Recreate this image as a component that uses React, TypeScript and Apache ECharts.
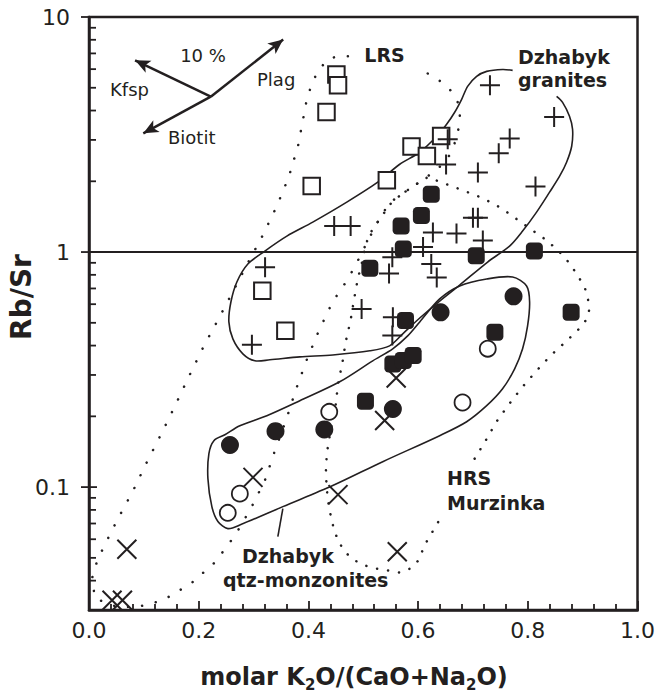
import React, { useEffect, useRef } from "react";
import * as echarts from "echarts";

const INK = "#231f20";
const FONT = '"DejaVu Sans", sans-serif';

// Axis ranges and tick values
const xRange = [0, 1];
const xStep = 0.2;
const yRange = [0.03, 10];
const yMajorTicks = [0.1, 1, 10];
const yMinorTicks = [
  0.04, 0.05, 0.06, 0.07, 0.08, 0.09,
  0.2, 0.3, 0.4, 0.5, 0.6, 0.7, 0.8, 0.9,
  2, 3, 4, 5, 6, 7, 8, 9,
];
const rbSrUnity = 1;

// Samples: [molar K2O/(CaO+Na2O), Rb/Sr]
const openSquares = [
  [0.451, 5.7], [0.454, 5.12], [0.433, 3.94], [0.406, 1.91], [0.543, 2.02],
  [0.588, 2.81], [0.642, 3.12], [0.616, 2.56], [0.316, 0.685], [0.358, 0.463],
];
const filledSquares = [
  [0.624, 1.76], [0.606, 1.43], [0.569, 1.29], [0.573, 1.03], [0.706, 0.965],
  [0.812, 1.01], [0.512, 0.853], [0.879, 0.555], [0.577, 0.511], [0.74, 0.456],
  [0.554, 0.334], [0.573, 0.346], [0.591, 0.363], [0.504, 0.232],
];
const filledCircles = [
  [0.257, 0.151], [0.34, 0.173], [0.429, 0.176], [0.554, 0.215], [0.641, 0.554], [0.774, 0.648],
];
const openCircles = [
  [0.275, 0.0938], [0.253, 0.0777], [0.438, 0.209], [0.727, 0.388], [0.681, 0.229],
];
const crosses = [
  [0.299, 0.11], [0.069, 0.0544], [0.454, 0.0929], [0.562, 0.0531],
  [0.042, 0.033], [0.061, 0.033], [0.56, 0.291], [0.539, 0.192],
];
const pluses = [
  [0.731, 5.12], [0.848, 3.75], [0.767, 3.04], [0.747, 2.63], [0.654, 3.02],
  [0.651, 2.36], [0.709, 2.18], [0.814, 1.9], [0.7, 1.4], [0.709, 1.4],
  [0.627, 1.21], [0.67, 1.2], [0.718, 1.12], [0.609, 1.05], [0.553, 0.95],
  [0.547, 0.81], [0.624, 0.89], [0.634, 0.78], [0.497, 0.573], [0.554, 0.528],
  [0.553, 0.441], [0.321, 0.861], [0.297, 0.403], [0.447, 1.29], [0.477, 1.29],
];

// 10 % fractionation vectors
const vectorOrigin = [0.222, 4.58];
const vectorKfsp = [0.084, 6.54];
const vectorBiotit = [0.099, 3.2];
const vectorPlag = [0.354, 8.02];

// Field outlines
const lrsField = [
  [0.6175, 5.75], [0.641, 5.32], [0.663, 4.78], [0.676, 4.17], [0.676, 3.56],
  [0.67, 3.05], [0.659, 2.61], [0.641, 2.32], [0.6175, 2.1], [0.592, 1.91],
  [0.568, 1.75], [0.548, 1.62], [0.5355, 1.46], [0.523, 1.3], [0.51, 1.135],
  [0.497, 0.99], [0.4845, 0.864], [0.466, 0.731], [0.444, 0.613], [0.419, 0.462],
  [0.397, 0.348], [0.377, 0.259], [0.359, 0.192], [0.339, 0.143], [0.3206, 0.1066],
  [0.295, 0.0811], [0.266, 0.0622], [0.2295, 0.0478], [0.186, 0.0389], [0.135, 0.033],
  [0.093, 0.0311], [0.053, 0.0308], [0.011, 0.0336], [0.0055, 0.0409], [0.0146, 0.0483],
  [0.0255, 0.0548], [0.051, 0.0721], [0.0796, 0.0957], [0.105, 0.127], [0.131, 0.167],
  [0.157, 0.222], [0.182, 0.295], [0.2077, 0.391], [0.235, 0.514], [0.262, 0.676],
  [0.2896, 0.898], [0.317, 1.181], [0.3424, 1.567], [0.364, 2.08], [0.381, 2.82],
  [0.392, 3.855], [0.397, 4.46], [0.406, 5.17], [0.417, 5.87], [0.435, 6.6],
  [0.452, 6.8], [0.475, 6.8],
];
const hrsField = [
  [0.703, 0.132], [0.723, 0.1575], [0.743, 0.19], [0.765, 0.224], [0.789, 0.2646],
  [0.814, 0.309], [0.841, 0.3617], [0.869, 0.415], [0.897, 0.48], [0.909, 0.525],
  [0.9126, 0.578], [0.909, 0.644], [0.9035, 0.71], [0.887, 0.822], [0.8725, 0.916],
  [0.858, 1.0], [0.834, 1.124], [0.818, 1.192], [0.785, 1.354], [0.7517, 1.537],
  [0.7177, 1.695], [0.681, 1.834], [0.6424, 1.98], [0.6175, 2.082], [0.597, 1.944],
  [0.57, 1.763], [0.552, 1.63], [0.53, 1.381], [0.517, 1.252], [0.508, 1.136],
  [0.503, 1.03], [0.497, 0.889], [0.49, 0.768], [0.4827, 0.619], [0.4767, 0.509],
  [0.468, 0.415], [0.462, 0.338], [0.454, 0.275], [0.45, 0.226], [0.441, 0.177],
  [0.4335, 0.1388], [0.4317, 0.114], [0.435, 0.0894], [0.4426, 0.0714], [0.4536, 0.0593],
  [0.4663, 0.0532], [0.479, 0.0497], [0.497, 0.0469], [0.521, 0.0451], [0.5446, 0.0442],
  [0.5665, 0.0433], [0.5865, 0.0451], [0.599, 0.0483], [0.6157, 0.0587], [0.635, 0.07],
  [0.645, 0.0764],
];
const granitesField = [
  [0.8525, 4.597], [0.8634, 4.335], [0.876, 3.781], [0.8816, 3.329], [0.88, 2.819],
  [0.8707, 2.411], [0.858, 2.102], [0.8397, 1.798], [0.816, 1.479], [0.7905, 1.228],
  [0.7668, 1.06], [0.7268, 0.907], [0.6758, 0.724], [0.6393, 0.619], [0.603, 0.524],
  [0.572, 0.449], [0.548, 0.399], [0.512, 0.38], [0.4444, 0.365], [0.3843, 0.358],
  [0.3297, 0.348], [0.3024, 0.3445], [0.2805, 0.369], [0.2623, 0.427], [0.255, 0.5044],
  [0.2587, 0.613], [0.2696, 0.746], [0.2896, 0.889], [0.3206, 1.01], [0.3607, 1.169],
  [0.408, 1.341], [0.47, 1.631], [0.5264, 1.983], [0.5665, 2.364], [0.603, 2.658],
  [0.634, 3.109], [0.652, 3.496], [0.6667, 3.932], [0.6794, 4.464], [0.6903, 5.07],
  [0.7067, 5.59], [0.725, 5.87], [0.754, 5.98], [0.7723, 5.93],
];
const qtzMonzField = [
  [0.2186, 0.1388], [0.2277, 0.1575], [0.2477, 0.167], [0.275, 0.1824], [0.3242, 0.2012],
  [0.3843, 0.233], [0.457, 0.2805], [0.5173, 0.3445], [0.5537, 0.3874], [0.581, 0.4398],
  [0.603, 0.5044], [0.6393, 0.6316], [0.6758, 0.7173], [0.725, 0.768], [0.7723, 0.783],
  [0.7978, 0.7173], [0.8033, 0.613], [0.7996, 0.485], [0.7905, 0.3874], [0.776, 0.3184],
  [0.754, 0.262], [0.725, 0.222], [0.6885, 0.1897], [0.6393, 0.1655], [0.5355, 0.1283],
  [0.4444, 0.1015], [0.3534, 0.0826], [0.2769, 0.0693], [0.2532, 0.0666], [0.235, 0.0714],
  [0.224, 0.0826], [0.2168, 0.1087],
];
const qtzMonzLeader = [[0.3534, 0.081], [0.3443, 0.0616]];

const PLUS = "path://M10,0L10,20M0,10L20,10";
const CROSS = "path://M0,0L20,20M0,20L20,0";

function outlineSeries(pts: number[][], closed: boolean, dotted: boolean, gap = 12) {
  return {
    type: "custom",
    silent: true,
    clip: true,
    z: 2,
    data: pts,
    renderItem: (params: any, api: any) => {
      if (params.dataIndex !== 0) return null;
      const points = pts.map((p) => api.coord(p));
      return {
        type: closed ? "polygon" : "polyline",
        shape: { points, smooth: dotted ? 0 : 0.3 },
        style: dotted
          ? { fill: "none", stroke: INK, lineWidth: 2.5, lineDash: [0.1, gap], lineCap: "round" }
          : { fill: "none", stroke: INK, lineWidth: 1.6 },
      };
    },
  };
}

function yTickSeries(vals: number[], outer: number, inner: number) {
  return {
    type: "custom",
    silent: true,
    clip: false,
    z: 6,
    data: vals.map((v) => [xRange[0], v]),
    renderItem: (params: any, api: any) => {
      const p = api.coord([api.value(0), api.value(1)]);
      return {
        type: "line",
        shape: { x1: p[0] - outer, y1: p[1], x2: p[0] + inner, y2: p[1] },
        style: { stroke: INK, lineWidth: 1.8 },
      };
    },
  };
}

function scatterSeries(data: number[][], symbol: string, size: number, itemStyle: any, z: number) {
  return {
    type: "scatter",
    data,
    symbol,
    symbolSize: size,
    itemStyle: { opacity: 1, ...itemStyle },
    z,
    silent: true,
    emphasis: { disabled: true },
  };
}

function label(text: string, x: number, y: number, bold: boolean, align = "left", size?: number) {
  return {
    type: "text",
    x,
    y,
    z: 10,
    style: {
      text,
      fill: INK,
      fontFamily: FONT,
      fontSize: size ?? (bold ? 19 : 18),
      fontWeight: bold ? "bold" : "normal",
      align,
      verticalAlign: "middle",
    },
  };
}

export default function App() {
  const ref = useRef<HTMLDivElement>(null);

  useEffect(() => {
    if (!ref.current) return;
    const chart = echarts.init(ref.current, undefined, { renderer: "svg" });
    const option: any = {
      animation: false,
      backgroundColor: "#ffffff",
      grid: {
        left: 89,
        top: 17,
        width: 549,
        height: 593,
        show: true,
        borderColor: INK,
        borderWidth: 2.5,
        backgroundColor: "transparent",
      },
      xAxis: {
        type: "value",
        min: xRange[0],
        max: xRange[1],
        interval: xStep,
        axisLine: { show: true, onZero: false, lineStyle: { color: INK, width: 2.5 } },
        axisTick: { show: true, inside: true, length: 9, lineStyle: { color: INK, width: 1.8 } },
        minorTick: { show: true, splitNumber: 5, length: 6, lineStyle: { color: INK, width: 1.8 } },
        splitLine: { show: false },
        axisLabel: {
          color: INK,
          fontFamily: FONT,
          fontSize: 22,
          margin: 9,
          formatter: (v: number) => v.toFixed(1),
        },
      },
      yAxis: {
        type: "log",
        logBase: 10,
        min: yRange[0],
        max: yRange[1],
        axisLine: { show: true, lineStyle: { color: INK, width: 2.5 } },
        axisTick: { show: false },
        splitLine: { show: false },
        axisLabel: {
          color: INK,
          fontFamily: FONT,
          fontSize: 22,
          margin: 19,
          formatter: (v: number) => {
            const l = Math.log10(v);
            return Math.abs(l - Math.round(l)) < 1e-6 ? String(+v.toPrecision(6)) : "";
          },
        },
      },
      graphic: [
        label("LRS", 384.5, 55, true, "center"),
        label("Dzhabyk", 518, 57, true),
        label("granites", 518, 80, true),
        label("HRS", 447, 478, true),
        label("Murzinka", 447, 503, true),
        label("Dzhabyk", 242, 556, true),
        label("qtz-monzonites", 223, 580, true),
        label("10 %", 203, 55, false, "center"),
        label("Kfsp", 110, 89, false),
        label("Plag", 257, 79, false),
        label("Biotit", 168, 137, false),
        {
          type: "text",
          x: 21,
          y: 297,
          rotation: Math.PI / 2,
          z: 10,
          style: {
            text: "Rb/Sr",
            fill: INK,
            fontFamily: FONT,
            fontSize: 28,
            fontWeight: "bold",
            align: "center",
            verticalAlign: "middle",
          },
        },
        {
          type: "text",
          x: 354,
          y: 677,
          z: 10,
          style: {
            text: "{m|molar K}{s|2}{m|O/(CaO+Na}{s|2}{m|O)}",
            align: "center",
            verticalAlign: "middle",
            rich: {
              m: { fontFamily: FONT, fontSize: 24, fontWeight: "bold", fill: INK, lineHeight: 30 },
              s: {
                fontFamily: FONT,
                fontSize: 15,
                fontWeight: "bold",
                fill: INK,
                lineHeight: 15,
                verticalAlign: "bottom",
              },
            },
          },
        },
      ],
      series: [
        outlineSeries(lrsField, false, true, 14),
        outlineSeries(hrsField, false, true, 11),
        outlineSeries(granitesField, false, false),
        outlineSeries(qtzMonzField, true, false),
        outlineSeries(qtzMonzLeader, false, false),
        {
          type: "line",
          data: [],
          silent: true,
          z: 3,
          markLine: {
            silent: true,
            animation: false,
            symbol: ["none", "none"],
            label: { show: false },
            lineStyle: { color: INK, width: 2, type: "solid", opacity: 1 },
            data: [{ yAxis: rbSrUnity }],
          },
        },
        {
          type: "line",
          data: [],
          silent: true,
          z: 3,
          markLine: {
            silent: true,
            animation: false,
            symbol: ["none", "arrow"],
            symbolSize: [10, 15],
            label: { show: false },
            lineStyle: { color: INK, width: 2.5, type: "solid", opacity: 1 },
            data: [vectorKfsp, vectorBiotit, vectorPlag].map((end) => [
              { coord: vectorOrigin },
              { coord: end },
            ]),
          },
        },
        scatterSeries(openSquares, "rect", 16.5, { color: "#ffffff", borderColor: INK, borderWidth: 2 }, 4),
        scatterSeries(filledSquares, "roundRect", 17, { color: INK }, 4),
        scatterSeries(filledCircles, "circle", 18, { color: INK }, 4),
        scatterSeries(openCircles, "circle", 16, { color: "#ffffff", borderColor: INK, borderWidth: 1.8 }, 4),
        scatterSeries(pluses, PLUS, 20, { color: "rgba(0,0,0,0)", borderColor: INK, borderWidth: 2 }, 5),
        scatterSeries(crosses, CROSS, 19, { color: "rgba(0,0,0,0)", borderColor: INK, borderWidth: 2 }, 5),
        yTickSeries(yMinorTicks, 0, 7),
        yTickSeries(yMajorTicks, 8, 8),
      ],
    };
    chart.setOption(option);
    return () => chart.dispose();
  }, []);

  return (
    <div
      ref={ref}
      style={{ position: "absolute", left: 0, top: 0, width: 658, height: 694, background: "#fff" }}
    />
  );
}
